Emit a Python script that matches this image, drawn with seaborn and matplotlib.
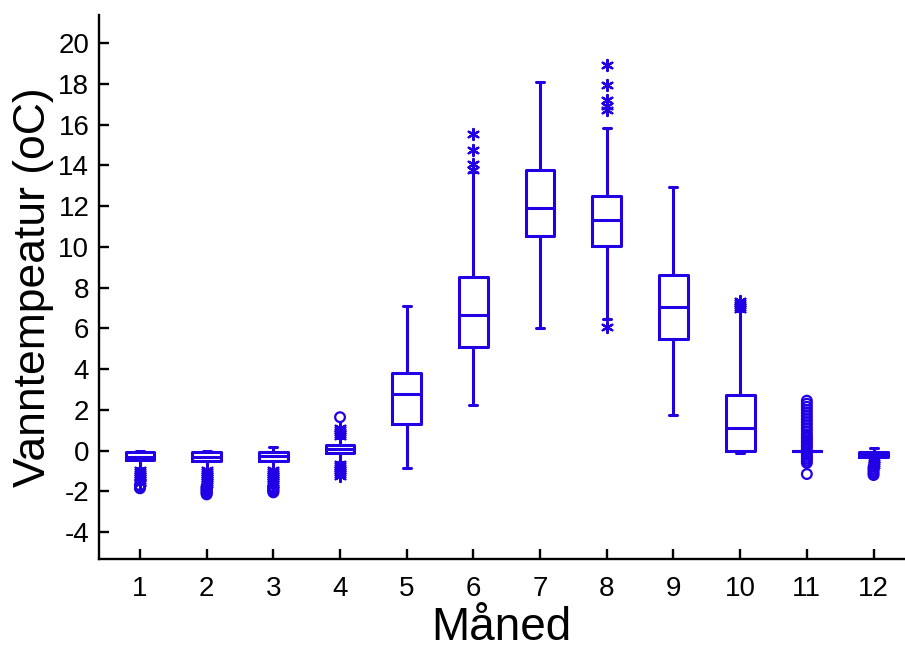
import numpy as np
import pandas as pd
import matplotlib
matplotlib.use("Agg")
import matplotlib.pyplot as plt
from matplotlib.markers import MarkerStyle
import seaborn as sns

# ---- data ----
months = ['1', '2', '3', '4', '5', '6', '7', '8', '9', '10', '11', '12']
whisk_lo = [-0.87, -0.90, -0.90, -0.55, -0.87, 2.25, 6.01, 6.44, 1.76, -0.10, 0.00, -0.35]
q1 = [-0.48, -0.50, -0.50, -0.13, 1.31, 5.09, 10.51, 10.03, 5.48, -0.02, 0.00, -0.30]
median = [-0.30, -0.30, -0.25, 0.10, 2.79, 6.67, 11.92, 11.30, 7.04, 1.13, 0.00, -0.15]
q3 = [-0.08, -0.08, -0.05, 0.28, 3.81, 8.54, 13.76, 12.51, 8.60, 2.74, 0.00, -0.08]
whisk_hi = [0.00, 0.00, 0.16, 0.62, 7.08, 13.66, 18.08, 15.85, 12.96, 6.85, 0.00, 0.11]

# outliers (asterisks = mild, circles = extreme)
star_outliers = {
    '1': [-0.95, -1.05, -1.15, -1.25, -1.35, -1.45, -1.55, -1.6],
    '2': [-0.95, -1.05, -1.15, -1.25, -1.35, -1.45, -1.55, -1.65],
    '3': [-0.95, -1.05, -1.15, -1.25, -1.35, -1.45, -1.55, -1.65],
    '4': [0.7, 0.8, 0.9, 1.0, 1.1, -0.65, -0.75, -0.85, -0.95, -1.05, -1.15, -1.25],
    '6': [13.78, 14.07, 14.76, 15.55],
    '8': [16.7, 16.9, 17.2, 17.96, 18.92, 6.06],
    '10': [6.95, 7.05, 7.15, 7.25, 7.35],
    '12': [-0.4, -0.5, -0.6, -0.7],
}
circle_outliers = {
    '1': [-1.7, -1.75, -1.8, -1.85],
    '2': [-1.75, -1.8, -1.85, -1.9, -1.95, -2.0, -2.05, -2.1, -2.15],
    '3': [-1.75, -1.8, -1.85, -1.9, -1.95, -2.0, -2.05],
    '4': [1.64],
    '11': [2.45, 2.3, 2.15, 2.0, 1.85, 1.7, 1.55, 1.4, 1.25, 1.1, 0.95, 0.8,
           0.7, 0.6, 0.5, 0.4, 0.3, 0.2, 0.1, -0.1, -0.2, -0.3, -0.4, -0.5,
           -0.6, -1.15],
    '12': [-0.8, -0.9, -1.0, -1.1, -1.2],
}
yticks = [-4, -2, 0, 2, 4, 6, 8, 10, 12, 14, 16, 18, 20]

# ---- build tables ----
rows = []
for i, m in enumerate(months):
    for v in (whisk_lo[i], q1[i], median[i], q3[i], whisk_hi[i]):
        rows.append((m, v))
box_df = pd.DataFrame(rows, columns=['Måned', 'temp'])
star_df = pd.DataFrame([(m, v) for m, vs in star_outliers.items() for v in vs],
                       columns=['Måned', 'temp'])
circ_df = pd.DataFrame([(m, v) for m, vs in circle_outliers.items() for v in vs],
                       columns=['Måned', 'temp'])

# ---- style ----
sns.set_style("white")
plt.rcParams['font.family'] = ['Liberation Sans', 'DejaVu Sans']
blue = '#2200e6'

fig = plt.figure(figsize=(9.05, 6.5), dpi=100)
ax = fig.add_axes([0.1094, 0.140, 0.889, 0.837])

sns.boxplot(data=box_df, x='Måned', y='temp', order=months, ax=ax,
            whis=(0, 100), fill=False, color=blue, linewidth=2.2,
            width=0.43, showfliers=False)

sns.stripplot(data=star_df, x='Måned', y='temp', order=months, ax=ax,
              jitter=False, color=blue, marker=(6, 2, 0), size=8,
              linewidth=1.6)
sns.stripplot(data=circ_df, x='Måned', y='temp', order=months, ax=ax,
              jitter=False, color=blue,
              marker=MarkerStyle('o', fillstyle='none'), size=7,
              linewidth=1.6)

# shrink the caps
for line in ax.lines:
    xd = np.asarray(line.get_xdata(), dtype=float)
    yd = np.asarray(line.get_ydata(), dtype=float)
    if len(xd) == 2 and len(yd) == 2 and yd[0] == yd[1] and 0.05 < abs(xd[1] - xd[0]) < 0.3:
        c = (xd[0] + xd[1]) / 2
        line.set_xdata([c - 0.06, c + 0.06])

ax.set_xlim(-0.614, 11.45)
ax.set_ylim(-5.32, 21.38)
ax.set_yticks(yticks)
ax.set_yticklabels([str(t) for t in yticks])

for s in ['top', 'right']:
    ax.spines[s].set_visible(False)
for s in ['left', 'bottom']:
    ax.spines[s].set_color('black')
    ax.spines[s].set_linewidth(1.7)

ax.tick_params(axis='both', direction='in', length=7, width=1.7,
               colors='black', labelsize=20)
ax.tick_params(axis='y', pad=7, left=True)
ax.tick_params(axis='x', pad=12, bottom=True)

ax.set_xlabel('Måned', fontsize=33, labelpad=3, color='black')
ax.set_ylabel('Vanntempeatur (oC)', fontsize=32, labelpad=3, color='black')

fig.savefig('out.png', dpi=100)
